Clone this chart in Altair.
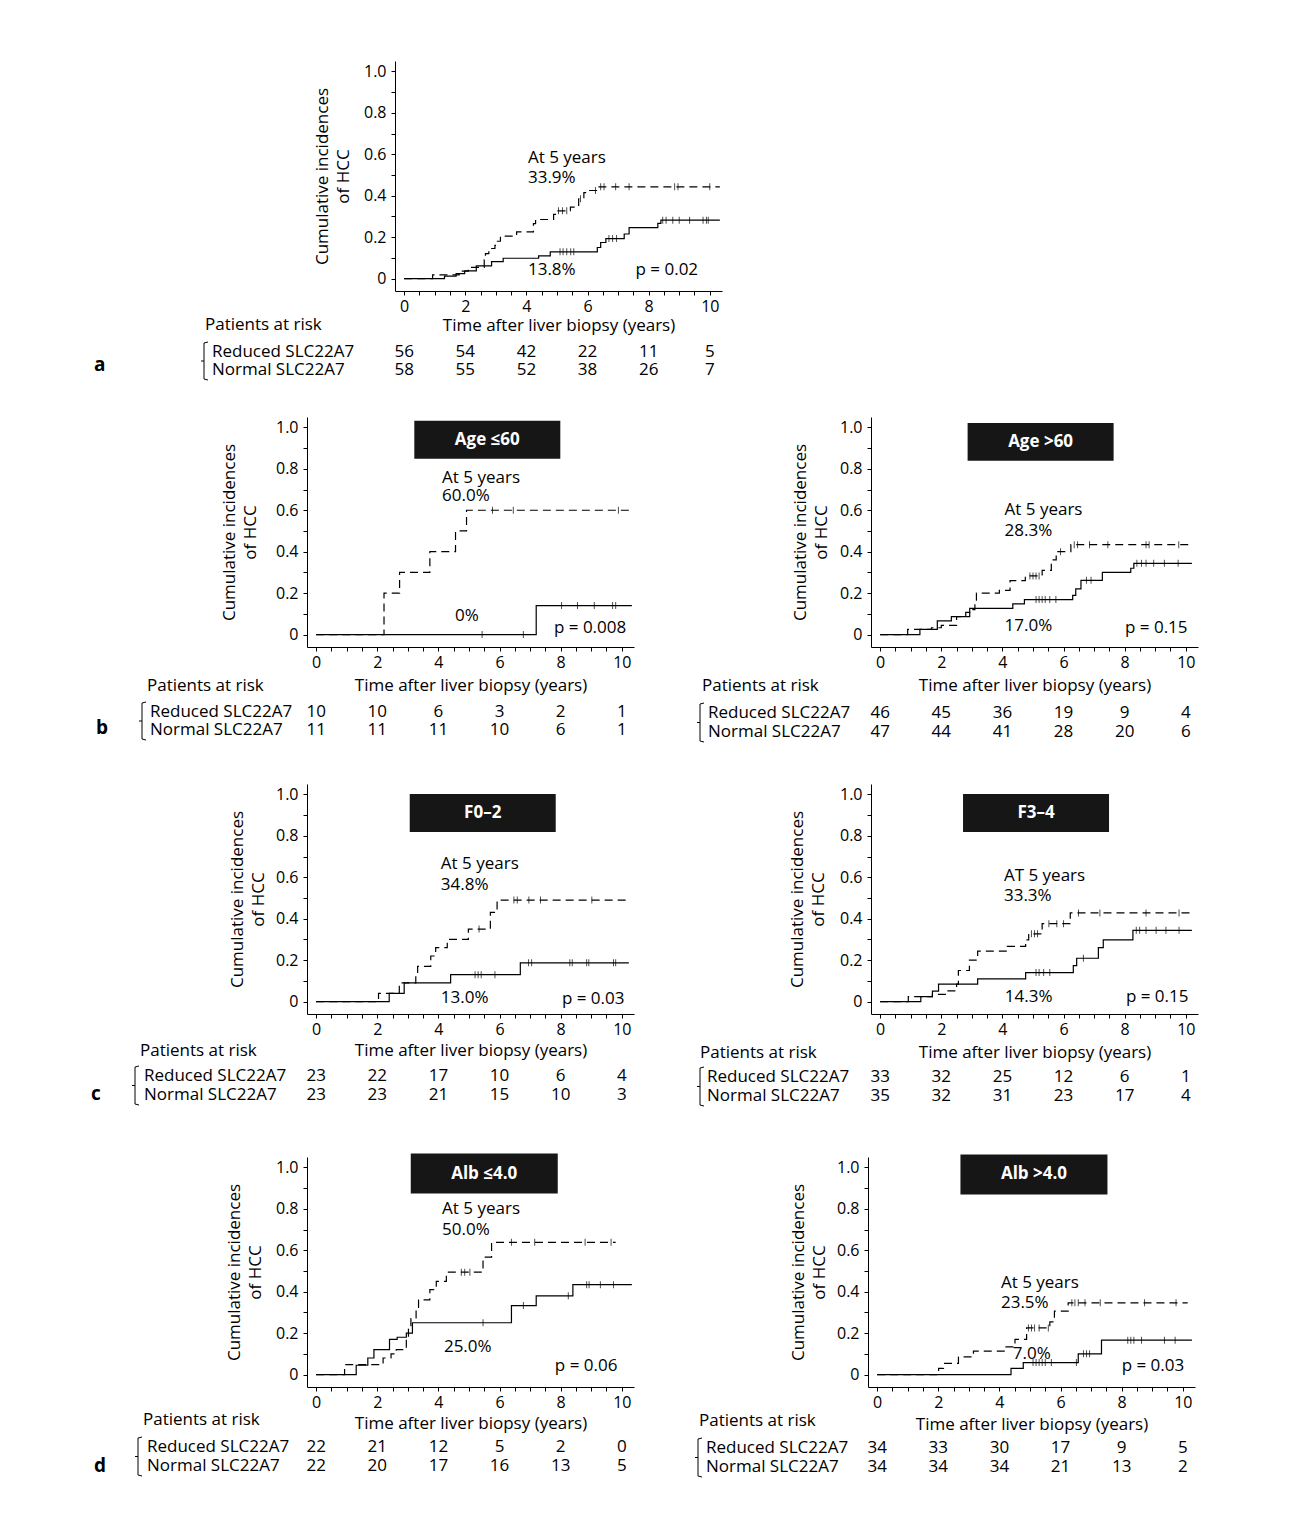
import altair as alt
import pandas as pd

FONT = "Open Sans"
TIMES = [0, 2, 4, 6, 8, 10]

# ---------------- data ----------------
# panel a
A_RED = [(0.93, 0.018), (1.8, 0.036), (2.1, 0.054), (2.62, 0.09), (2.66, 0.12), (2.77, 0.145),
         (2.97, 0.16), (3.05, 0.18), (3.15, 0.205), (3.68, 0.225), (4.23, 0.265), (4.3, 0.285),
         (4.89, 0.31), (4.95, 0.327), (5.44, 0.345), (5.71, 0.385), (5.88, 0.415), (6.0, 0.425),
         (6.32, 0.443)]
A_RED_CENS = [5.05, 5.18, 5.32, 5.77, 6.26, 6.43, 6.54, 6.92, 7.36, 8.85, 8.96, 10.0]
A_NOR = [(1.32, 0.012), (1.7, 0.024), (1.98, 0.037), (2.36, 0.061), (2.86, 0.082), (3.24, 0.098),
         (4.4, 0.11), (4.78, 0.129), (6.32, 0.15), (6.43, 0.174), (6.6, 0.193), (7.2, 0.215),
         (7.36, 0.246), (8.3, 0.266), (8.4, 0.282)]
A_NOR_CENS = [5.1, 5.2, 5.32, 5.45, 5.55, 6.7, 6.82, 6.95, 8.46, 8.57, 8.79, 9.0, 9.34, 9.78, 9.89, 9.95]
A_END = [10.33, 10.33]
A_RISK_RED = [56, 54, 42, 22, 11, 5]
A_RISK_NOR = [58, 55, 52, 38, 26, 7]

# panel b left (Age <=60)
BL_RED = [(2.22, 0.2), (2.73, 0.3), (3.72, 0.4), (4.56, 0.5), (4.92, 0.6)]
BL_RED_CENS = [5.77, 6.45, 9.89]
BL_NOR = [(7.2, 0.14)]
BL_NOR_CENS = [5.43, 6.78, 8.03, 8.55, 9.1, 9.7, 9.8]
BL_END = [10.33, 10.33]
BL_RISK_RED = [10, 10, 6, 3, 2, 1]
BL_RISK_NOR = [11, 11, 11, 10, 6, 1]

# panel b right (Age >60)
BR_RED = [(0.9, 0.025), (1.68, 0.033), (2.0, 0.044), (2.5, 0.087), (2.93, 0.12), (3.1, 0.16),
          (3.15, 0.2), (3.9, 0.213), (4.25, 0.26), (4.75, 0.283), (5.3, 0.31), (5.6, 0.36),
          (5.76, 0.4), (6.24, 0.434)]
BR_RED_CENS = [4.9, 5.0, 5.1, 5.2, 5.9, 6.35, 6.46, 6.85, 7.45, 8.7, 8.8, 9.77]
BR_NOR = [(1.3, 0.025), (1.87, 0.066), (2.33, 0.087), (2.8, 0.107), (2.93, 0.126), (4.34, 0.148),
          (4.72, 0.169), (6.3, 0.189), (6.4, 0.221), (6.57, 0.262), (7.27, 0.3), (8.2, 0.32),
          (8.3, 0.344)]
BR_NOR_CENS = [5.1, 5.2, 5.3, 5.4, 5.55, 5.75, 6.75, 6.9, 8.4, 8.55, 8.7, 8.95, 9.3, 9.75]
BR_END = [10.2, 10.2]
BR_RISK_RED = [46, 45, 36, 19, 9, 4]
BR_RISK_NOR = [47, 44, 41, 28, 20, 6]

# panel c left (F0-2)
CL_RED = [(2.04, 0.04), (2.72, 0.09), (3.26, 0.13), (3.32, 0.17), (3.75, 0.22), (3.91, 0.26),
          (4.29, 0.3), (4.98, 0.35), (5.7, 0.43), (5.92, 0.49)]
CL_RED_CENS = [5.33, 6.47, 6.58, 6.96, 7.34, 9.02]
CL_NOR = [(2.39, 0.04), (2.88, 0.09), (4.4, 0.13), (6.68, 0.187)]
CL_NOR_CENS = [5.2, 5.3, 5.4, 5.85, 6.95, 7.05, 8.3, 8.38, 8.85, 8.92, 9.73, 9.8]
CL_END = [10.23, 10.23]
CL_RISK_RED = [23, 22, 17, 10, 6, 4]
CL_RISK_NOR = [23, 23, 21, 15, 10, 3]

# panel c right (F3-4)
CR_RED = [(0.92, 0.024), (1.71, 0.035), (2.19, 0.052), (2.5, 0.084), (2.56, 0.15), (2.92, 0.2),
          (3.19, 0.243), (4.16, 0.266), (4.76, 0.298), (4.86, 0.327), (5.3, 0.376), (6.22, 0.428)]
CR_RED_CENS = [4.95, 5.05, 5.15, 5.52, 5.78, 6.0, 6.49, 7.19, 8.7, 9.78]
CR_NOR = [(1.33, 0.024), (1.71, 0.05), (1.91, 0.084), (3.19, 0.11), (4.76, 0.14), (6.32, 0.173),
          (6.43, 0.209), (7.14, 0.26), (7.3, 0.298), (8.27, 0.344)]
CR_NOR_CENS = [5.1, 5.2, 5.35, 5.55, 6.65, 8.38, 8.49, 8.7, 9.03, 9.35, 9.78]
CR_END = [10.2, 10.2]
CR_RISK_RED = [33, 32, 25, 12, 6, 1]
CR_RISK_NOR = [35, 32, 31, 23, 17, 4]

# panel d left (Alb <=4.0)
DL_RED = [(0.93, 0.048), (2.19, 0.08), (2.45, 0.1), (2.62, 0.12), (2.95, 0.17), (3.02, 0.22),
          (3.1, 0.27), (3.27, 0.31), (3.35, 0.36), (3.72, 0.41), (3.93, 0.45), (4.26, 0.494),
          (5.46, 0.567), (5.74, 0.638)]
DL_RED_CENS = [4.75, 4.86, 5.03, 6.39, 7.15, 8.8, 9.65]
DL_NOR = [(1.31, 0.045), (1.69, 0.08), (1.89, 0.12), (2.4, 0.17), (2.65, 0.18), (2.95, 0.2),
          (3.15, 0.25), (6.39, 0.333), (7.2, 0.38), (8.4, 0.434)]
DL_NOR_CENS = [5.46, 6.78, 8.25, 8.85, 8.93, 9.3, 9.73]
DL_END = [9.8, 10.33]
DL_RISK_RED = [22, 21, 12, 5, 2, 0]
DL_RISK_NOR = [22, 20, 17, 16, 13, 5]

# panel d right (Alb >4.0)
DR_RED = [(2.01, 0.03), (2.17, 0.054), (2.66, 0.085), (3.15, 0.113), (4.18, 0.134), (4.51, 0.17),
          (4.89, 0.225), (5.65, 0.254), (5.8, 0.306), (6.25, 0.346)]
DR_RED_CENS = [4.95, 5.05, 5.15, 5.3, 5.6, 6.37, 6.47, 6.58, 6.8, 7.3, 8.75, 9.78]
DR_NOR = [(4.38, 0.03), (4.78, 0.058), (6.58, 0.1), (7.34, 0.166)]
DR_NOR_CENS = [5.1, 5.2, 5.3, 5.4, 5.5, 5.7, 6.52, 6.75, 6.85, 6.95, 8.2, 8.3, 8.4, 8.65, 9.4, 9.75]
DR_END = [10.16, 10.3]
DR_RISK_RED = [34, 33, 30, 17, 9, 5]
DR_RISK_NOR = [34, 34, 34, 21, 13, 2]

# ---------------- layout ----------------
XDOM = [-0.3, 10.4]
YDOM = [-0.06, 1.05]
W, H = 327, 230
TXT = 17
ONE = pd.DataFrame({"k": [0]})


def curve_df(steps, end):
    rows = [{"t": 0.0, "v": 0.0}] + [{"t": t, "v": v} for t, v in steps] + [{"t": end, "v": steps[-1][1]}]
    return pd.DataFrame(rows)


def cens_df(steps, cens):
    out = []
    for c in cens:
        val = 0.0
        for t, v in steps:
            if t <= c:
                val = v
        out.append({"t": c, "v": val})
    return pd.DataFrame(out)


def label(text, dx, dy, size=TXT, weight="normal", opacity=1.0):
    return alt.Chart(ONE).mark_text(
        text=text, align="left", baseline="middle", font=FONT, fontSize=size,
        fontWeight=weight, color="black", opacity=opacity
    ).encode(x=alt.value(dx), y=alt.value(dy))


def seg(x1, y1, x2, y2):
    return alt.Chart(ONE).mark_rule(color="black", strokeWidth=1).encode(
        x=alt.value(x1), y=alt.value(y1), x2=alt.value(x2), y2=alt.value(y2))


def bracket(bx, r1, r2):
    top, bot, mid = r1 - 9, r2 + 9, (r1 + r2) / 2
    return [seg(bx + 3, top, bx + 3, bot), seg(bx + 3, top, bx + 7, top - 1),
            seg(bx + 3, bot, bx + 7, bot + 1), seg(bx, mid, bx + 3, mid)]


def panel(red, red_c, nor, nor_c, ends, risk_red, risk_nor, notes, box, lay):
    sh = lay.get("shift", 0)
    xscale = alt.Scale(domain=XDOM, nice=False, zero=False, range=[sh, sh + W])
    yscale = alt.Scale(domain=YDOM, nice=False, zero=False)
    xaxis = alt.Axis(
        values=[i * 0.5 for i in range(21)],
        labelExpr="datum.value % 2 == 0 ? format(datum.value, 'd') : ''",
        title="Time after liver biopsy (years)", titlePadding=lay["xpad"],
        tickSize=4, labelPadding=3, grid=False, labelFlush=False, labelOverlap=False,
        domainColor="black", tickColor="black", labelColor="black", titleColor="black",
        labelFont=FONT, titleFont=FONT, labelFontSize=16, titleFontSize=TXT, titleFontWeight="normal",
    )
    yaxis = alt.Axis(
        values=[round(i * 0.1, 1) for i in range(11)],
        labelExpr="round(datum.value * 10) % 2 == 0 ? (datum.value == 0 ? '0' : format(datum.value, '.1f')) : ''",
        title=["Cumulative incidences", "of HCC"], titlePadding=lay["ypad"], titleLineHeight=21,
        tickSize=4, labelPadding=5, grid=False, labelFlush=False, labelOverlap=False, offset=-sh,
        domainColor="black", tickColor="black", labelColor="black", titleColor="black",
        labelFont=FONT, titleFont=FONT, labelFontSize=16, titleFontSize=TXT, titleFontWeight="normal",
    )
    bx = alt.X("t:Q", scale=xscale, axis=xaxis)
    by = alt.Y("v:Q", scale=yscale, axis=yaxis)
    red_line = alt.Chart(curve_df(red, ends[0])).mark_line(
        interpolate="step-after", color="black", strokeWidth=1.2, strokeDash=[8, 5]
    ).encode(x=bx, y=by)
    nor_line = alt.Chart(curve_df(nor, ends[1])).mark_line(
        interpolate="step-after", color="black", strokeWidth=1.2
    ).encode(x=bx, y=by)
    cens = alt.Chart(pd.concat([cens_df(red, red_c), cens_df(nor, nor_c)])).mark_tick(
        orient="vertical", size=7, thickness=1, color="black"
    ).encode(x=bx, y=by)
    notes_df = pd.DataFrame([{"t": x, "v": y, "txt": s} for s, x, y in notes])
    note_txt = alt.Chart(notes_df).mark_text(
        align="left", baseline="middle", font=FONT, fontSize=TXT, color="black"
    ).encode(x=bx, y=by, text="txt:N")
    risk_df = pd.DataFrame({"t": TIMES, "r": [str(v) for v in risk_red], "n": [str(v) for v in risk_nor]})
    r1, r2, hdr = lay["rows"]
    risk1 = alt.Chart(risk_df).mark_text(align="center", baseline="middle", font=FONT, fontSize=TXT,
                                         color="black").encode(x=bx, y=alt.value(r1), text="r:N")
    risk2 = alt.Chart(risk_df).mark_text(align="center", baseline="middle", font=FONT, fontSize=TXT,
                                         color="black").encode(x=bx, y=alt.value(r2), text="n:N")
    layers = [red_line, nor_line, cens, note_txt, risk1, risk2,
              label("Patients at risk", lay["hdr_dx"] + sh, hdr),
              label("Reduced SLC22A7", lay["lab_dx"] + sh, r1),
              label("Normal SLC22A7", lay["lab_dx"] + sh, r2)]
    layers += bracket(lay["br_dx"] + sh, r1, r2)
    if box is not None:
        btxt, bxc, byc, bw, bh = box
        r = bh / bw
        box_df = pd.DataFrame({"t": [bxc], "v": [byc], "txt": [btxt]})
        layers.append(alt.Chart(box_df).mark_point(
            shape=f"M-1,-{r:.3f}L1,-{r:.3f}L1,{r:.3f}L-1,{r:.3f}Z", size=bw * bw, filled=True,
            color="#161616", opacity=1, strokeWidth=0
        ).encode(x=bx, y=by))
        layers.append(alt.Chart(box_df).mark_text(
            align="center", baseline="middle", font=FONT, fontSize=17, fontWeight="bold", color="white"
        ).encode(x=bx, y=by, text="txt:N"))
    if "letter" in lay:
        layers.append(label(lay["letter"], lay["let_dx"] + sh, lay["let_dy"], size=19, weight="bold"))
    if lay.get("spacer", 0):
        layers.append(label(".", sh + 10, r2 + lay["spacer"], opacity=0))
    return alt.layer(*layers).properties(width=W + sh, height=H)


pA = panel(A_RED, A_RED_CENS, A_NOR, A_NOR_CENS, A_END, A_RISK_RED, A_RISK_NOR,
           [("At 5 years", 4.05, 0.58), ("33.9%", 4.05, 0.483), ("13.8%", 4.05, 0.04), ("p = 0.02", 7.57, 0.04)],
           None,
           dict(shift=88, xpad=3, ypad=11, rows=(291, 309, 264), hdr_dx=-190, lab_dx=-183, br_dx=-194,
                letter="a", let_dx=-301, let_dy=304))

pBL = panel(BL_RED, BL_RED_CENS, BL_NOR, BL_NOR_CENS, BL_END, BL_RISK_RED, BL_RISK_NOR,
            [("At 5 years", 4.12, 0.758), ("60.0%", 4.12, 0.667), ("0%", 4.54, 0.092), ("p = 0.008", 7.78, 0.034)],
            ("Age ≤60", 5.6, 0.94, 146, 38),
            dict(xpad=7, ypad=16, rows=(295, 313, 269), hdr_dx=-160, lab_dx=-157, br_dx=-168,
                 letter="b", let_dx=-211, let_dy=311, spacer=10))
pBR = panel(BR_RED, BR_RED_CENS, BR_NOR, BR_NOR_CENS, BR_END, BR_RISK_RED, BR_RISK_NOR,
            [("At 5 years", 4.07, 0.602), ("28.3%", 4.07, 0.5), ("17.0%", 4.07, 0.04), ("p = 0.15", 8.01, 0.034)],
            ("Age >60", 5.25, 0.93, 146, 38),
            dict(xpad=7, ypad=9, rows=(296, 315, 269), hdr_dx=-169, lab_dx=-163, br_dx=-174))

pCL = panel(CL_RED, CL_RED_CENS, CL_NOR, CL_NOR_CENS, CL_END, CL_RISK_RED, CL_RISK_NOR,
            [("At 5 years", 4.08, 0.665), ("34.8%", 4.08, 0.563), ("13.0%", 4.08, 0.015), ("p = 0.03", 8.04, 0.01)],
            ("F0–2", 5.45, 0.91, 146, 38),
            dict(xpad=5, ypad=8, rows=(292, 311, 267), hdr_dx=-167, lab_dx=-163, br_dx=-175,
                 letter="c", let_dx=-216, let_dy=310, spacer=14))
pCR = panel(CR_RED, CR_RED_CENS, CR_NOR, CR_NOR_CENS, CR_END, CR_RISK_RED, CR_RISK_NOR,
            [("AT 5 years", 4.05, 0.607), ("33.3%", 4.05, 0.51), ("14.3%", 4.08, 0.024), ("p = 0.15", 8.04, 0.02)],
            ("F3–4", 5.1, 0.91, 146, 38),
            dict(xpad=7, ypad=12, rows=(293, 312, 269), hdr_dx=-171, lab_dx=-164, br_dx=-174))

pDL = panel(DL_RED, DL_RED_CENS, DL_NOR, DL_NOR_CENS, DL_END, DL_RISK_RED, DL_RISK_NOR,
            [("At 5 years", 4.12, 0.80), ("50.0%", 4.12, 0.70), ("25.0%", 4.18, 0.135), ("p = 0.06", 7.81, 0.04)],
            ("Alb ≤4.0", 5.5, 0.97, 147, 40),
            dict(xpad=5, ypad=11, rows=(290, 309, 263), hdr_dx=-164, lab_dx=-160, br_dx=-172,
                 letter="d", let_dx=-213, let_dy=309))
pDR = panel(DR_RED, DR_RED_CENS, DR_NOR, DR_NOR_CENS, DR_END, DR_RISK_RED, DR_RISK_NOR,
            [("At 5 years", 4.05, 0.44), ("23.5%", 4.05, 0.343), ("7.0%", 4.44, 0.10), ("p = 0.03", 8.0, 0.043)],
            ("Alb >4.0", 5.13, 0.966, 147, 40),
            dict(xpad=6, ypad=8, rows=(291, 310, 264), hdr_dx=-169, lab_dx=-162, br_dx=-173))

rowA = alt.hconcat(pA)
rowB = alt.hconcat(pBL, pBR, spacing=61)
rowC = alt.hconcat(pCL, pCR, spacing=62)
rowD = alt.hconcat(pDL, pDR, spacing=59)

chart = alt.vconcat(rowA, rowB, rowC, rowD, spacing=36).properties(
    padding={"left": 83, "top": 53, "right": 10, "bottom": 10},
    background="white",
).configure_view(stroke=None)

chart.save("out.html", embed_options={"renderer": "svg", "actions": False})
